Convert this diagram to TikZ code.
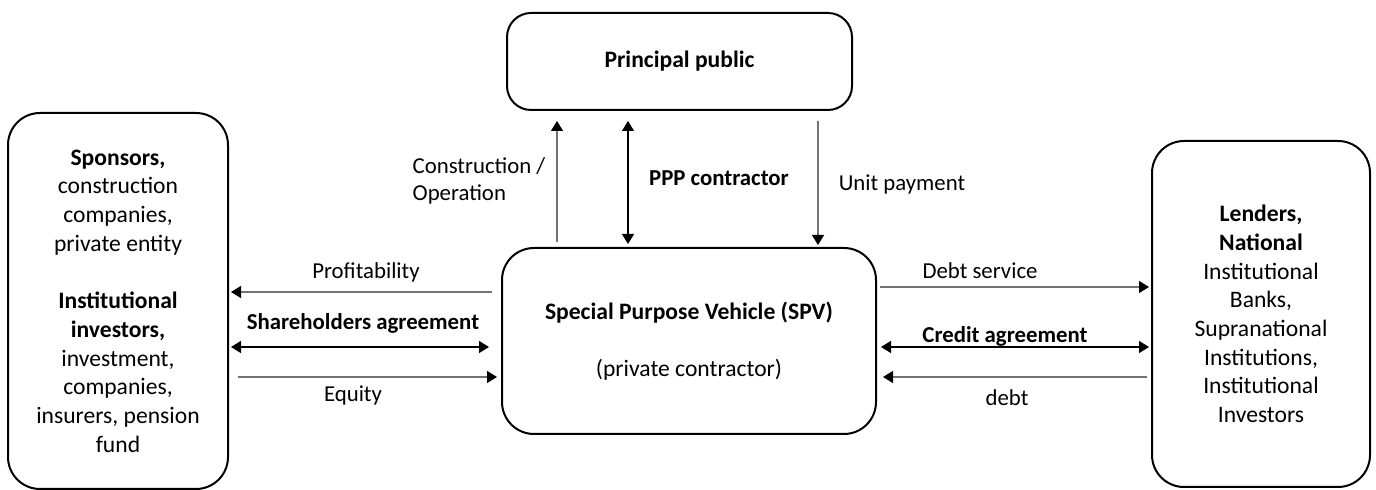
\documentclass[tikz,border=0pt]{standalone}
\usepackage{fontspec}
\setmainfont{Carlito}
\usetikzlibrary{arrows.meta}
\tikzset{
  box/.style={draw, line width=1pt, rounded corners=16pt, align=center,
    inner sep=0pt, font=\fontsize{11.8}{14.35}\selectfont},
  flow/.style={-{Triangle[length=5pt,width=6pt,color=black]}, black!55, line width=0.6pt},
  deal/.style={{Triangle[length=5pt,width=6pt]}-{Triangle[length=5pt,width=6pt]}, line width=0.7pt},
  lbl/.style={font=\fontsize{11.4}{13.5}\selectfont, inner sep=0pt}
}
\begin{document}
\begin{tikzpicture}[x=0.5pt, y=-0.5pt]
    \useasboundingbox (0,0) rectangle (1376,490);
    % the four parties
    \node [box, rounded corners=12pt, minimum width=172.5pt, minimum height=48.5pt] (pub) at (679.5,61.5) {\textbf{Principal public}};
    \node [box, minimum width=187pt, minimum height=93pt] (spv) at (689,341)
      {\textbf{Special Purpose Vehicle (SPV)}\\[14.35pt] (private contractor)};
    \node [box, minimum width=110pt, minimum height=188pt] (spons) at (118,301)
      {\textbf{Sponsors,}\\ construction\\ companies,\\ private entity\\[14.35pt]
       \textbf{Institutional}\\ \textbf{investors,}\\ investment,\\ companies,\\ insurers, pension\\ fund};
    \node [box, minimum width=109pt, minimum height=173pt] (lend) at (1261,314)
      {\textbf{Lenders,}\\ \textbf{National}\\ Institutional\\ Banks,\\ Supranational\\ Institutions,\\ Institutional\\ Investors};
    % public side
    \draw [flow, shorten <=2.5pt, shorten >=5pt] (spv.north -| 557,0) -- (pub.south -| 557,0);
    \draw [deal, shorten <=5pt, shorten >=1.5pt] (pub.south -| 628,0) -- (spv.north -| 628,0);
    \draw [flow, shorten <=5pt, shorten >=1pt] (pub.south -| 818,0) -- (spv.north -| 818,0);
    \node [lbl, align=left] (tcons) at (479,181) {Construction /\\ Operation};
    \node [lbl] (tppp) at (719,178) {\textbf{PPP contractor}};
    \node [lbl] (tunit) at (902,185) {Unit payment};
    % sponsors side
    \draw [flow, shorten <=4.5pt, shorten >=1pt] (spv.west |- 0,292) -- (spons.east |- 0,292);
    \draw [deal, shorten <=1pt, shorten >=6pt] (spons.east |- 0,347) -- (spv.west |- 0,347);
    \draw [flow, shorten <=4.5pt, shorten >=2pt] (spons.east |- 0,377) -- (spv.west |- 0,377);
    \node [lbl] (tprof) at (366,272) {Profitability};
    \node [lbl] (tshare) at (363,323) {\textbf{Shareholders agreement}};
    \node [lbl] (tequ) at (353,395) {Equity};
    % lenders side
    \draw [flow, shorten <=1.5pt, shorten >=1pt] (spv.east |- 0,287) -- (lend.west |- 0,287);
    \draw [deal, shorten <=2pt, shorten >=1pt] (spv.east |- 0,347) -- (lend.west |- 0,347);
    \draw [flow, shorten <=2pt, shorten >=3pt] (lend.west |- 0,377) -- (spv.east |- 0,377);
    \node [lbl] (tserv) at (980,271) {Debt service};
    \node [lbl] (tcred) at (1005,336) {\textbf{Credit agreement}};
    \node [lbl] (tdebt) at (1007,398) {debt};
  \end{tikzpicture}
\end{document}
